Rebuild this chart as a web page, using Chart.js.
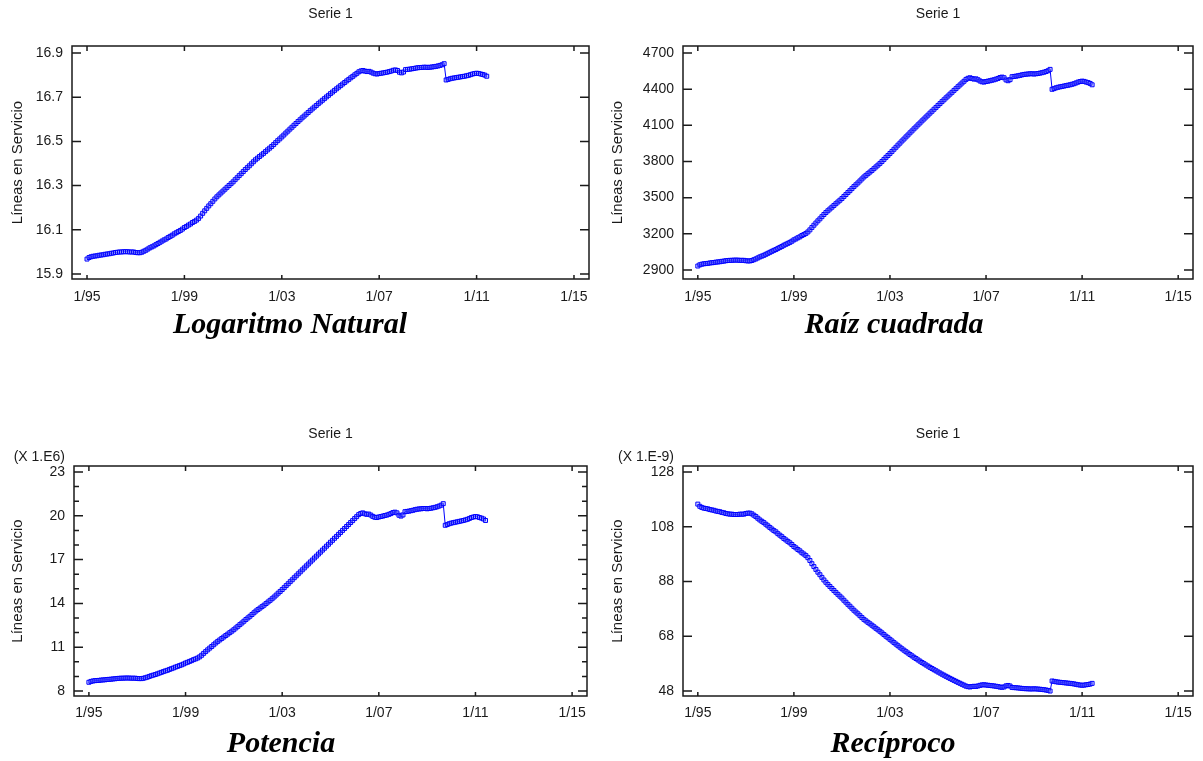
<!DOCTYPE html>
<html>
<head>
<meta charset="utf-8">
<script src="https://cdn.jsdelivr.net/npm/chart.js@4.4.1/dist/chart.umd.min.js"></script>
<style>
  body { margin: 0; background: #fff; width: 1203px; height: 761px; position: relative; overflow: hidden; }
  canvas { position: absolute; }
  .nombre { position: absolute; transform: translate(-50%, -50%); white-space: nowrap;
    font: italic bold 30px "Liberation Serif", "Times New Roman", serif; color: #000; }
</style>
</head>
<body>
<canvas id="gLog" width="600" height="330" style="left:0px;top:0px"></canvas>
<canvas id="gRaiz" width="603" height="330" style="left:600px;top:0px"></canvas>
<canvas id="gPot" width="600" height="330" style="left:0px;top:400px"></canvas>
<canvas id="gRec" width="603" height="330" style="left:600px;top:400px"></canvas>
<div class="nombre" style="left:290px;top:323px">Logaritmo Natural</div>
<div class="nombre" style="left:894px;top:323px">Raíz cuadrada</div>
<div class="nombre" style="left:281px;top:742px">Potencia</div>
<div class="nombre" style="left:893px;top:742px">Recíproco</div>
<script>
// Líneas en servicio (millones), mensual desde 1/95
const lineas = [
  8.60, 8.66, 8.69, 8.71, 8.72, 8.73, 8.75, 8.76, 8.77, 8.79, 8.80, 8.81,        // 1995
  8.83, 8.84, 8.86, 8.87, 8.88, 8.88, 8.89, 8.89, 8.89, 8.88, 8.88, 8.88,        // 1996
  8.86, 8.85, 8.85, 8.87, 8.91, 8.95, 9.00, 9.05, 9.09, 9.13, 9.18, 9.23,        // 1997
  9.28, 9.33, 9.38, 9.42, 9.48, 9.53, 9.58, 9.64, 9.69, 9.74, 9.79, 9.85,        // 1998
  9.92, 9.97, 10.03, 10.08, 10.15, 10.20, 10.26, 10.34, 10.45, 10.58, 10.70, 10.82, // 1999
  10.94, 11.05, 11.17, 11.29, 11.40, 11.50, 11.60, 11.70, 11.80, 11.90, 12.00, 12.10, // 2000
  12.20, 12.32, 12.43, 12.55, 12.66, 12.78, 12.90, 13.01, 13.12, 13.24, 13.36, 13.48, // 2001
  13.58, 13.68, 13.78, 13.88, 13.99, 14.10, 14.21, 14.32, 14.44, 14.57, 14.70, 14.82, // 2002
  14.95, 15.08, 15.22, 15.35, 15.49, 15.62, 15.76, 15.89, 16.03, 16.16, 16.30, 16.43, // 2003
  16.57, 16.70, 16.84, 16.97, 17.11, 17.24, 17.38, 17.51, 17.65, 17.78, 17.92, 18.05, // 2004
  18.19, 18.32, 18.46, 18.59, 18.73, 18.86, 19.00, 19.13, 19.27, 19.40, 19.54, 19.67, // 2005
  19.81, 19.94, 20.08, 20.16, 20.20, 20.14, 20.10, 20.12, 20.05, 19.96, 19.90, 19.88, // 2006
  19.92, 19.95, 19.98, 20.02, 20.05, 20.10, 20.15, 20.22, 20.25, 20.20, 20.04, 19.98, // 2007
  20.06, 20.28, 20.30, 20.32, 20.35, 20.38, 20.42, 20.45, 20.47, 20.48, 20.50, 20.50, // 2008
  20.48, 20.50, 20.52, 20.55, 20.58, 20.62, 20.67, 20.73, 20.83, 19.35, 19.40, 19.46, // 2009
  19.50, 19.53, 19.56, 19.59, 19.62, 19.65, 19.68, 19.72, 19.76, 19.82, 19.88, 19.92, // 2010
  19.95, 19.93, 19.88, 19.84, 19.78, 19.68                                          // 2011
];

// eje de tiempo: una marca cada 48 meses
const mesesEje = [0, 48, 96, 144, 192, 240];
const etiquetasEje = ['1/95', '1/99', '1/03', '1/07', '1/11', '1/15'];

const marcasLog = [15.9, 16.1, 16.3, 16.5, 16.7, 16.9];
const marcasRaiz = [2900, 3200, 3500, 3800, 4100, 4400, 4700];
const marcasPot = [8, 11, 14, 17, 20, 23];
const menoresPot = [9, 10, 12, 13, 15, 16, 18, 19, 21, 22];
const marcasRec = [48, 68, 88, 108, 128];
const menoresRec = [];

const TINTA = '#1a1a1a';
const AZUL = '#0000ff';
const FUENTE = '"Liberation Sans", Arial, sans-serif';

// recuadro, marcas hacia dentro y rótulos de cada gráfico
const marco = {
  id: 'marco',
  beforeDatasetsDraw(chart, args, opts) {
    const { ctx, chartArea: a, scales: { x, y } } = chart;
    ctx.save();
    ctx.strokeStyle = TINTA;
    ctx.lineWidth = 1.5;
    ctx.strokeRect(a.left, a.top, a.width, a.height);
    ctx.beginPath();
    x.ticks.forEach(t => {
      const px = x.getPixelForValue(t.value);
      ctx.moveTo(px, a.bottom); ctx.lineTo(px, a.bottom - 4);
      ctx.moveTo(px, a.top); ctx.lineTo(px, a.top + 5);
    });
    y.ticks.forEach(t => {
      const py = y.getPixelForValue(t.value);
      ctx.moveTo(a.left, py); ctx.lineTo(a.left + 9, py);
      ctx.moveTo(a.right, py); ctx.lineTo(a.right - 9, py);
    });
    (opts.menores || []).forEach(v => {
      const py = y.getPixelForValue(v);
      ctx.moveTo(a.left, py); ctx.lineTo(a.left + 5, py);
      ctx.moveTo(a.right, py); ctx.lineTo(a.right - 5, py);
    });
    ctx.stroke();
    ctx.fillStyle = TINTA;
    ctx.font = '14px ' + FUENTE;
    ctx.textAlign = 'center';
    ctx.textBaseline = 'middle';
    ctx.fillText('Serie 1', (a.left + a.right) / 2, a.top - 32);
    if (opts.factor) {
      ctx.textAlign = 'right';
      ctx.fillText(opts.factor, a.left - 9, a.top - 9);
    }
    ctx.restore();
  }
};

function grafico(id, p) {
  const puntos = lineas.map((v, i) => ({ x: i, y: p.transformar(v) }));
  return new Chart(document.getElementById(id), {
    type: 'line',
    data: {
      datasets: [{
        data: puntos,
        borderColor: AZUL,
        borderWidth: 1,
        pointStyle: 'rect',
        pointRadius: 2.8,
        pointBorderWidth: 1,
        pointBorderColor: AZUL,
        pointBackgroundColor: 'rgba(150,160,255,0.35)',
        tension: 0
      }]
    },
    options: {
      responsive: false,
      animation: false,
      events: [],
      layout: { padding: p.margen },
      plugins: {
        legend: { display: false },
        tooltip: { enabled: false },
        marco: { menores: p.menores, factor: p.factor }
      },
      scales: {
        x: {
          type: 'linear',
          min: -7.4,
          max: 247.4,
          grid: { display: false, drawTicks: false },
          border: { display: false },
          afterBuildTicks: s => { s.ticks = mesesEje.map(v => ({ value: v })); },
          afterFit: s => { s.height = 30; },
          ticks: {
            autoSkip: false, maxRotation: 0, padding: p.sepX,
            color: TINTA, font: { family: FUENTE, size: 14 },
            callback: (v, i) => etiquetasEje[i]
          }
        },
        y: {
          type: 'linear',
          min: p.min,
          max: p.max,
          grid: { display: false, drawTicks: false },
          border: { display: false },
          afterBuildTicks: s => { s.ticks = p.marcas.map(v => ({ value: v })); },
          afterFit: s => { s.width = p.anchoY; },
          title: {
            display: true, text: 'Líneas en Servicio', color: TINTA,
            font: { family: FUENTE, size: 15 }, padding: { top: 9, bottom: 0 }
          },
          ticks: {
            padding: 9, color: TINTA, font: { family: FUENTE, size: 14 },
            callback: v => p.formato(v)
          }
        }
      }
    },
    plugins: [marco]
  });
}

grafico('gLog', {
  transformar: v => Math.log(v * 1e6),
  min: 15.877, max: 16.932, marcas: marcasLog,
  formato: v => v.toFixed(1),
  margen: { left: 0, right: 11, top: 46, bottom: 21 }, anchoY: 72, sepX: 10
});
grafico('gRaiz', {
  transformar: v => Math.sqrt(v * 1e6),
  min: 2825, max: 4758, marcas: marcasRaiz,
  formato: v => String(v),
  margen: { left: 0, right: 10, top: 46, bottom: 21 }, anchoY: 83, sepX: 10
});
grafico('gPot', {
  transformar: v => v,
  min: 7.66, max: 23.41, marcas: marcasPot, menores: menoresPot, factor: '(X 1.E6)',
  formato: v => String(v),
  margen: { left: 0, right: 13, top: 66, bottom: 4 }, anchoY: 74, sepX: 9
});
grafico('gRec', {
  transformar: v => 1e9 / (v * 1e6),
  min: 46.2, max: 130.2, marcas: marcasRec, menores: menoresRec, factor: '(X 1.E-9)',
  formato: v => String(v),
  margen: { left: 0, right: 10, top: 66, bottom: 4 }, anchoY: 83, sepX: 9
});
</script>
</body>
</html>
